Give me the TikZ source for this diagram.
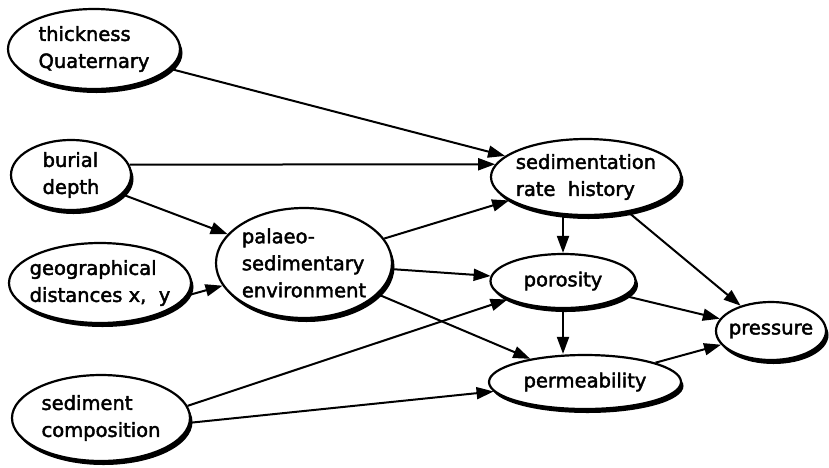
\documentclass[tikz,border=0pt]{standalone}
\usepackage{fontspec}
\setmainfont{DejaVu Sans}[UprightFeatures={FakeBold=2.2}]
\usetikzlibrary{arrows.meta,shapes.geometric,shadows}

\begin{document}
\begin{tikzpicture}[x=1pt, y=-1pt,
  blob/.style={ellipse, draw, line width=2.2pt, fill=white, align=left,
    inner xsep=-20pt, inner ysep=-15pt, font=\fontsize{19.5}{27}\selectfont,
    drop shadow={shadow xshift=2.5pt, shadow yshift=-4pt, fill=black, opacity=1}},
  link/.style={line width=2pt, -{Triangle[length=17pt,width=12pt]}}]
% \draw [help lines] (0,0) grid[step=50] (829,467);
\useasboundingbox (0,0) rectangle (829,467);
%%%%%%%%% left column
\node[blob, minimum width=172pt, minimum height=80pt] (thick) at (94,49) {thickness\\Quaternary};
\node[blob, minimum width=120pt, minimum height=70pt] (burial) at (71,175) {burial\\depth};
\node[blob, minimum width=182pt, minimum height=80pt] (geog) at (100,283) {geographical\\distances x,\ \ y};
\node[blob, minimum width=178pt, minimum height=86pt] (sediment) at (101,418) {sediment\\composition};
%%%%%%%%% middle
\node[blob, minimum width=176pt, minimum height=110pt] (palaeo) at (304,263) {palaeo-\\sedimentary\\environment};
%%%%%%%%% right
\node[blob, minimum width=190pt, minimum height=76pt] (sedrate) at (586,177) {sedimentation\\rate\ \ history};
\node[blob, minimum width=145pt, minimum height=54pt] (porosity) at (563,281) {porosity};
\node[blob, minimum width=192pt, minimum height=54pt] (perm) at (585,382) {permeability};
\node[blob, minimum width=110pt, minimum height=58pt] (pressure) at (771,331) {pressure};
%%%%%%%%% arrows
\draw [link] (thick) -- (sedrate);
\draw [link] (burial.10) -- (sedrate.172);
\draw [link] (burial) -- (palaeo);
\draw [link] (geog.-8) -- (palaeo);
\draw [link] (palaeo) -- (sedrate);
\draw [link] (palaeo) -- (porosity);
\draw [link] (palaeo) -- (perm);
\draw [link] (sediment.8) -- (porosity);
\draw [link] (sediment.-3) -- (perm);
\draw [link] (porosity.north |- sedrate.south) -- (porosity);
\draw [link] (porosity) -- (porosity.south |- perm.north);
\draw [link] (sedrate) -- (pressure);
\draw [link] (porosity) -- (pressure);
\draw [link] (perm) -- (pressure);
\end{tikzpicture}
\end{document}
